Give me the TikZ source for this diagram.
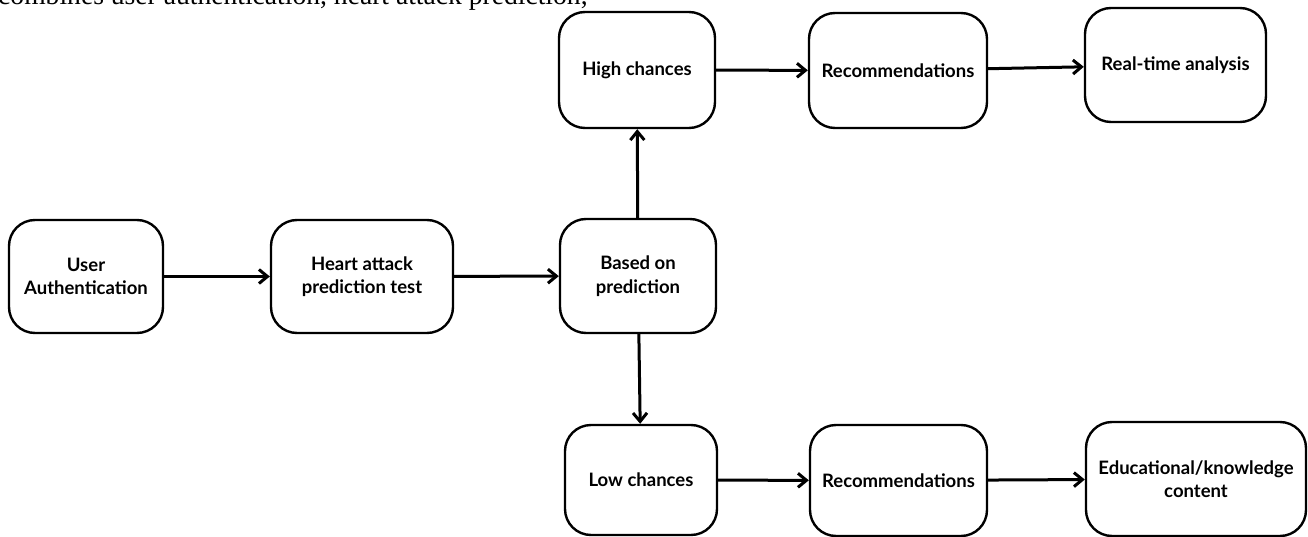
\documentclass[tikz,border=0pt]{standalone}
\usepackage{fontspec}
\setmainfont{Liberation Serif}
\newfontfamily\lbl{Lato}
\usetikzlibrary{arrows.meta}
\tikzset{
  box/.style={draw, line width=2.4pt, rounded corners=26pt, align=center,
    inner sep=0pt, font=\lbl\bfseries\fontsize{18.5}{23.5}\selectfont},
  arr/.style={line width=3pt, -{Straight Barb[length=8.5pt,width=14pt]}},
  toptext/.style={anchor=base west, inner sep=0pt, font=\fontsize{27.6}{30}\selectfont}
}
\begin{document}
\begin{tikzpicture}[x=1pt,y=-1pt]
\useasboundingbox (0,0) rectangle (1308,537);
\clip (0,0) rectangle (1308,537);
\fill[white] (0,0) rectangle (1308,537);
\node[toptext] (top) at (-2,5) {combines user authentication, heart attack prediction,};
\node[box, minimum width=154pt, minimum height=113pt] (ua) at (86,276.5) {User\\Authentication};
\node[box, minimum width=182pt, minimum height=113pt] (ha) at (362,276.5) {Heart attack\\prediction test};
\node[box, minimum width=156pt, minimum height=114pt] (bp) at (638,276) {Based on\\prediction};
\node[box, minimum width=156pt, minimum height=116pt] (hc) at (637,70) {High chances};
\node[box, minimum width=178pt, minimum height=115pt] (r1) at (898,70.5) {Recommendations};
\node[box, minimum width=181pt, minimum height=114pt] (rt) at (1175.5,65) {Real-time analysis};
\node[box, minimum width=152pt, minimum height=110pt] (lc) at (641,480) {Low chances};
\node[box, minimum width=177pt, minimum height=111pt] (r2) at (898.5,480.5) {Recommendations};
\node[box, minimum width=220pt, minimum height=114pt] (ed) at (1196,479) {Educational/knowledge\\content};
\draw[arr] (ua) -- (ha);
\draw[arr] (ha) -- (bp);
\draw[arr] (bp) -- (hc);
\draw[arr] (bp) -- (lc);
\draw[arr] (hc) -- (r1);
\draw[arr] (r1) -- (rt);
\draw[arr] (lc) -- (r2);
\draw[arr] (r2) -- (ed);
\end{tikzpicture}
\end{document}
